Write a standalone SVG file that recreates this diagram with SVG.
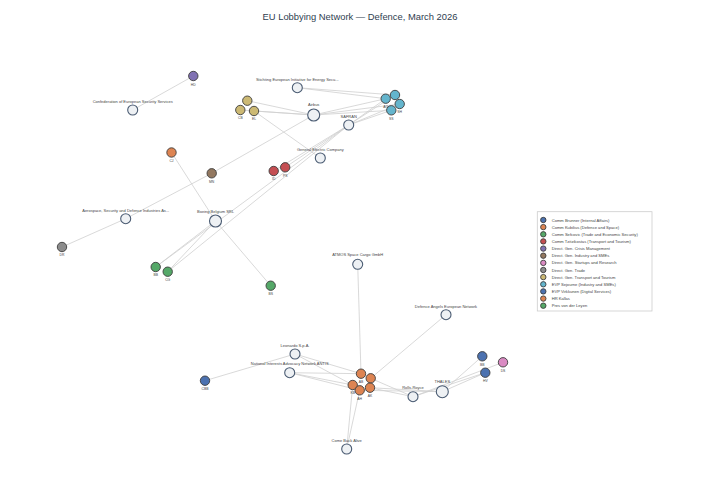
<svg xmlns="http://www.w3.org/2000/svg" width="720" height="504" viewBox="0 0 720 504">
<style>
.e{stroke:#cfcfcf;stroke-width:0.8;fill:none}
.o{fill:#eef1f4;stroke:#4a5b72;stroke-width:1.1}
.p{stroke:#3d3d3d;stroke-width:0.9}
text{font-family:"Liberation Sans",Arial,sans-serif;fill:#444}
.l{font-size:4px;text-anchor:middle}
.i{font-size:3.4px;text-anchor:middle}
.g{font-size:4.1px}
.t{font-size:9.4px;fill:#2f3e50;text-anchor:middle}
</style>
<rect width="720" height="504" fill="#ffffff"/>
<text class="t" x="360" y="20">EU Lobbying Network — Defence, March 2026</text>
<g id="edges">
<line class="e" x1="193.3" y1="76" x2="132.7" y2="110"/>
<line class="e" x1="247.3" y1="100.7" x2="313.7" y2="115"/>
<line class="e" x1="240.3" y1="110" x2="313.7" y2="115"/>
<line class="e" x1="254" y1="111" x2="313.7" y2="115"/>
<line class="e" x1="254" y1="111" x2="320.3" y2="158"/>
<line class="e" x1="385.7" y1="98.7" x2="313.7" y2="115"/>
<line class="e" x1="391.3" y1="110.3" x2="313.7" y2="115"/>
<line class="e" x1="399.7" y1="104" x2="313.7" y2="115"/>
<line class="e" x1="385.7" y1="98.7" x2="297.3" y2="87.7"/>
<line class="e" x1="395" y1="95" x2="297.3" y2="87.7"/>
<line class="e" x1="385.7" y1="98.7" x2="348.7" y2="125"/>
<line class="e" x1="395" y1="95" x2="348.7" y2="125"/>
<line class="e" x1="399.7" y1="104" x2="348.7" y2="125"/>
<line class="e" x1="391.3" y1="110.3" x2="348.7" y2="125"/>
<line class="e" x1="211.7" y1="173.3" x2="313.7" y2="115"/>
<line class="e" x1="211.7" y1="173.3" x2="125.7" y2="218.7"/>
<line class="e" x1="62" y1="247" x2="125.7" y2="218.7"/>
<line class="e" x1="171.5" y1="152.5" x2="215.5" y2="221"/>
<line class="e" x1="273.7" y1="171" x2="348.7" y2="125"/>
<line class="e" x1="285.2" y1="167.3" x2="348.7" y2="125"/>
<line class="e" x1="155.7" y1="267" x2="215.5" y2="221"/>
<line class="e" x1="167.7" y1="271.7" x2="215.5" y2="221"/>
<line class="e" x1="155.7" y1="267" x2="348.7" y2="125"/>
<line class="e" x1="167.7" y1="271.7" x2="348.7" y2="125"/>
<line class="e" x1="270.7" y1="285.7" x2="215.5" y2="221"/>
<line class="e" x1="205" y1="380.7" x2="295" y2="354"/>
<line class="e" x1="361" y1="373.7" x2="295" y2="354"/>
<line class="e" x1="352.7" y1="385" x2="295" y2="354"/>
<line class="e" x1="352.7" y1="385" x2="289.7" y2="372.7"/>
<line class="e" x1="359.7" y1="390.3" x2="289.7" y2="372.7"/>
<line class="e" x1="361" y1="373.7" x2="289.7" y2="372.7"/>
<line class="e" x1="361" y1="373.7" x2="357.7" y2="264.3"/>
<line class="e" x1="370.7" y1="378.3" x2="446" y2="314.7"/>
<line class="e" x1="370.7" y1="378.3" x2="413" y2="396.7"/>
<line class="e" x1="370" y1="387.7" x2="442.3" y2="391.7"/>
<line class="e" x1="370" y1="387.7" x2="413" y2="396.7"/>
<line class="e" x1="359.7" y1="390.3" x2="442.3" y2="391.7"/>
<line class="e" x1="352.7" y1="385" x2="346.7" y2="449"/>
<line class="e" x1="359.7" y1="390.3" x2="346.7" y2="449"/>
<line class="e" x1="482.3" y1="356.3" x2="442.3" y2="391.7"/>
<line class="e" x1="485.3" y1="372.7" x2="442.3" y2="391.7"/>
<line class="e" x1="485.3" y1="372.7" x2="413" y2="396.7"/>
<line class="e" x1="503" y1="362.3" x2="413" y2="396.7"/>
</g>
<g id="n-conf"><circle class="o" cx="132.7" cy="110" r="5"/><text class="l" x="132.7" y="103">Confederation of European Security Services</text></g>
<g id="n-stichting"><circle class="o" cx="297.3" cy="87.7" r="5"/><text class="l" x="297.3" y="80.5">Stichting European Initiative for Energy Secu...</text></g>
<g id="n-airbus"><circle class="o" cx="313.7" cy="115" r="6"/><text class="l" x="313.7" y="105.5">Airbus</text></g>
<g id="n-safran"><circle class="o" cx="348.7" cy="125" r="5"/><text class="l" x="348.7" y="117.5">SAFRAN</text></g>
<g id="n-ge"><circle class="o" cx="320.3" cy="158" r="5"/><text class="l" x="320.3" y="151">General Electric Company</text></g>
<g id="n-asd"><circle class="o" cx="125.7" cy="218.7" r="5"/><text class="l" x="125.7" y="211.7">Aerospace, Security and Defence Industries As...</text></g>
<g id="n-boeing"><circle class="o" cx="215.5" cy="221" r="6"/><text class="l" x="215.5" y="212.5">Boeing Belgium SRL</text></g>
<g id="n-atmos"><circle class="o" cx="357.7" cy="264.3" r="5"/><text class="l" x="357.7" y="255.5">ATMOS Space Cargo GmbH</text></g>
<g id="n-dane"><circle class="o" cx="446" cy="314.7" r="5"/><text class="l" x="446" y="308">Defence Angels European Network</text></g>
<g id="n-leonardo"><circle class="o" cx="295" cy="354" r="5"/><text class="l" x="295" y="346.7">Leonardo S.p.A.</text></g>
<g id="n-nian"><circle class="o" cx="289.7" cy="372.7" r="5"/><text class="l" x="289.7" y="365">National Interests Advocacy Network ANTIS</text></g>
<g id="n-rr"><circle class="o" cx="413" cy="396.7" r="5"/><text class="l" x="413" y="389.3">Rolls-Royce</text></g>
<g id="n-thales"><circle class="o" cx="442.3" cy="391.7" r="6"/><text class="l" x="442.3" y="383.3">THALES</text></g>
<g id="n-cba"><circle class="o" cx="346.7" cy="449" r="5"/><text class="l" x="346.7" y="441.7">Come Back Alive</text></g>
<g id="p-hd"><circle class="p" cx="193.3" cy="76" r="4.7" fill="#8172b3"/><text class="i" x="193.3" y="85.8">HD</text></g>
<g id="p-y1"><circle class="p" cx="247.3" cy="100.7" r="4.7" fill="#ccb974"/></g>
<g id="p-cb"><circle class="p" cx="240.3" cy="110" r="4.7" fill="#ccb974"/><text class="i" x="240.3" y="119.3">CB</text></g>
<g id="p-el"><circle class="p" cx="254" cy="111" r="4.7" fill="#ccb974"/><text class="i" x="254" y="120.3">EL</text></g>
<g id="p-cj"><circle class="p" cx="171.5" cy="152.5" r="4.7" fill="#dd8452"/><text class="i" x="171.5" y="161.8">CJ</text></g>
<g id="p-mn"><circle class="p" cx="211.7" cy="173.3" r="4.7" fill="#937860"/><text class="i" x="211.7" y="182.6">MN</text></g>
<g id="p-id"><circle class="p" cx="273.7" cy="171" r="4.7" fill="#c44e52"/><text class="i" x="273.7" y="180.3">ID</text></g>
<g id="p-ps"><circle class="p" cx="285.2" cy="167.3" r="4.7" fill="#c44e52"/><text class="i" x="285.2" y="176.6">PS</text></g>
<g id="p-c1"><circle class="p" cx="385.7" cy="98.7" r="4.7" fill="#64b5cd"/><text class="i" x="385.7" y="108">AG</text></g>
<g id="p-c2"><circle class="p" cx="395" cy="95" r="4.7" fill="#64b5cd"/></g>
<g id="p-c3"><circle class="p" cx="399.7" cy="104" r="4.7" fill="#64b5cd"/><text class="i" x="399.7" y="113.3">SH</text></g>
<g id="p-c4"><circle class="p" cx="391.3" cy="110.3" r="4.7" fill="#64b5cd"/><text class="i" x="391.3" y="119.6">SS</text></g>
<g id="p-dr"><circle class="p" cx="62" cy="247" r="4.7" fill="#8c8c8c"/><text class="i" x="62" y="256.3">DR</text></g>
<g id="p-bb"><circle class="p" cx="155.7" cy="267" r="4.7" fill="#55a868"/><text class="i" x="155.7" y="276.3">BB</text></g>
<g id="p-cg"><circle class="p" cx="167.7" cy="271.7" r="4.7" fill="#55a868"/><text class="i" x="167.7" y="281">CG</text></g>
<g id="p-bs"><circle class="p" cx="270.7" cy="285.7" r="4.7" fill="#55a868"/><text class="i" x="270.7" y="295">BS</text></g>
<g id="p-cbb"><circle class="p" cx="205" cy="380.7" r="4.7" fill="#4c72b0"/><text class="i" x="205" y="390">CBB</text></g>
<g id="p-o1"><circle class="p" cx="361" cy="373.7" r="4.7" fill="#dd8452"/><text class="i" x="361" y="383">AB</text></g>
<g id="p-o2"><circle class="p" cx="370.7" cy="378.3" r="4.7" fill="#dd8452"/></g>
<g id="p-o3"><circle class="p" cx="352.7" cy="385" r="4.7" fill="#dd8452"/><text class="i" x="352.7" y="394.3">KB</text></g>
<g id="p-o4"><circle class="p" cx="359.7" cy="390.3" r="4.7" fill="#dd8452"/><text class="i" x="359.7" y="399.6">AH</text></g>
<g id="p-o5"><circle class="p" cx="370" cy="387.7" r="4.7" fill="#dd8452"/><text class="i" x="370" y="397">AK</text></g>
<g id="p-bb2"><circle class="p" cx="482.3" cy="356.3" r="4.7" fill="#4c72b0"/><text class="i" x="482.3" y="365.6">BB</text></g>
<g id="p-ds"><circle class="p" cx="503" cy="362.3" r="4.7" fill="#da8bc3"/><text class="i" x="503" y="371.6">DS</text></g>
<g id="p-hv"><circle class="p" cx="485.3" cy="372.7" r="4.7" fill="#4c72b0"/><text class="i" x="485.3" y="382">HV</text></g>
<g id="legend">
<rect x="537.3" y="211.7" width="114.7" height="99.3" fill="#ffffff" stroke="#cccccc" stroke-width="0.8"/>
<g class="p">
<circle cx="543.3" cy="220" r="2.7" fill="#4c72b0"/>
<circle cx="543.3" cy="227.1" r="2.7" fill="#dd8452"/>
<circle cx="543.3" cy="234.3" r="2.7" fill="#55a868"/>
<circle cx="543.3" cy="241.4" r="2.7" fill="#c44e52"/>
<circle cx="543.3" cy="248.6" r="2.7" fill="#8172b3"/>
<circle cx="543.3" cy="255.7" r="2.7" fill="#937860"/>
<circle cx="543.3" cy="262.9" r="2.7" fill="#da8bc3"/>
<circle cx="543.3" cy="270" r="2.7" fill="#8c8c8c"/>
<circle cx="543.3" cy="277.1" r="2.7" fill="#ccb974"/>
<circle cx="543.3" cy="284.3" r="2.7" fill="#64b5cd"/>
<circle cx="543.3" cy="291.4" r="2.7" fill="#4c72b0"/>
<circle cx="543.3" cy="298.6" r="2.7" fill="#dd8452"/>
<circle cx="543.3" cy="305.7" r="2.7" fill="#55a868"/>
</g>
<text class="g" x="551.7" y="221.5">Comm Brunner (Internal Affairs)</text>
<text class="g" x="551.7" y="228.6">Comm Kubilius (Defence and Space)</text>
<text class="g" x="551.7" y="235.8">Comm Sefcovic (Trade and Economic Security)</text>
<text class="g" x="551.7" y="242.9">Comm Tzitzikostas (Transport and Tourism)</text>
<text class="g" x="551.7" y="250.1">Direct. Gen. Crisis Management</text>
<text class="g" x="551.7" y="257.2">Direct. Gen. Industry and SMEs</text>
<text class="g" x="551.7" y="264.4">Direct. Gen. Startups and Research</text>
<text class="g" x="551.7" y="271.5">Direct. Gen. Trade</text>
<text class="g" x="551.7" y="278.6">Direct. Gen. Transport and Tourism</text>
<text class="g" x="551.7" y="285.8">EVP Sejourne (Industry and SMEs)</text>
<text class="g" x="551.7" y="292.9">EVP Virkkunen (Digital Services)</text>
<text class="g" x="551.7" y="300.1">HR Kallas</text>
<text class="g" x="551.7" y="307.2">Pres von der Leyen</text>
</g>
</svg>
